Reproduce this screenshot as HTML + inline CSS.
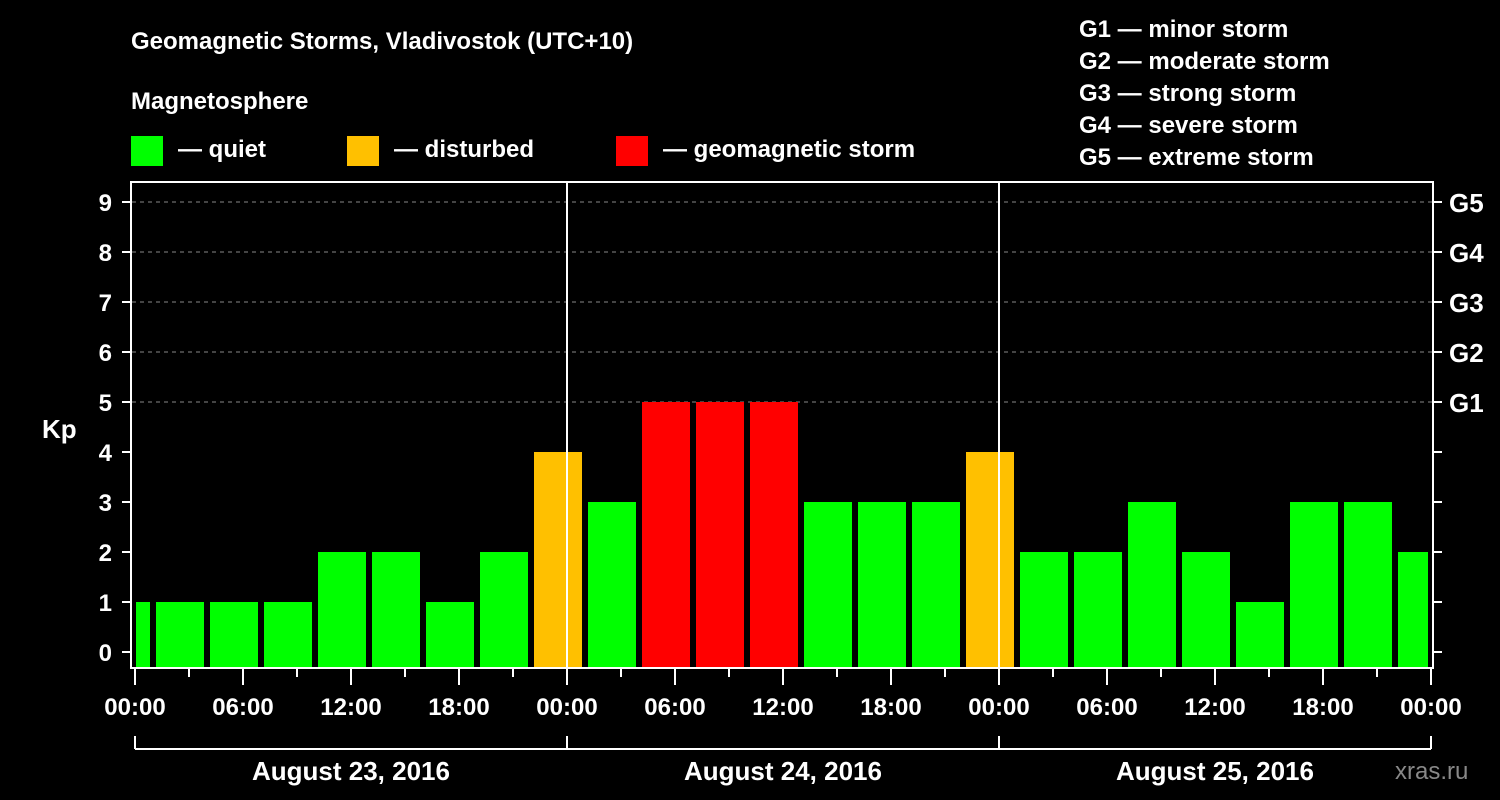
<!DOCTYPE html>
<html><head><meta charset="utf-8"><style>
body{margin:0;background:#000;width:1500px;height:800px;overflow:hidden}
svg{display:block}
text{font-family:"Liberation Sans",Arial,sans-serif;font-weight:bold;fill:#fff}
</style></head><body>
<svg id="c" width="1500" height="800">
<text x="131" y="49" font-size="24">Geomagnetic Storms, Vladivostok (UTC+10)</text>
<text x="131" y="109" font-size="24">Magnetosphere</text>
<g><rect x="131" y="136" width="32" height="30" fill="#00ff00"/><text x="178" y="157" font-size="24">— quiet</text></g>
<g><rect x="347" y="136" width="32" height="30" fill="#ffc000"/><text x="394" y="157" font-size="24">— disturbed</text></g>
<g><rect x="616" y="136" width="32" height="30" fill="#ff0000"/><text x="663" y="157" font-size="24">— geomagnetic storm</text></g>
<g font-size="24">
<text x="1079" y="37">G1 — minor storm</text><text x="1079" y="69">G2 — moderate storm</text><text x="1079" y="101">G3 — strong storm</text><text x="1079" y="133">G4 — severe storm</text><text x="1079" y="165">G5 — extreme storm</text></g>
<text x="42" y="438" font-size="26">Kp</text>
<text x="1395" y="779" font-size="24" fill="#888" style="fill:#888;font-weight:normal">xras.ru</text>
<g id="grid"></g><g id="bars"></g><g id="axes"></g>
</svg>
<script>
const kpValues=[1,1,1,1,2,2,1,2,4,3,5,5,5,3,3,3,4,2,2,3,2,1,3,3,2];
const kpTicks=[0,1,2,3,4,5,6,7,8,9];
const gLabels=["","","","","","G1","G2","G3","G4","G5"];
const hourLabels=["00:00","06:00","12:00","18:00","00:00","06:00","12:00","18:00","00:00","06:00","12:00","18:00","00:00"];
const dateLabels=["August 23, 2016","August 24, 2016","August 25, 2016"];
const NS="http://www.w3.org/2000/svg";
const X0=135,PX_H=18,Y0=652,PX_K=50,LEFT=132,RIGHT=1433,TOP=182,BOT=668;
const x=h=>X0+h*PX_H, y=k=>Y0-k*PX_K;
function mk(t,a,p){const e=document.createElementNS(NS,t);for(const k in a)e.setAttribute(k,a[k]);p.appendChild(e);return e;}
const grid=document.getElementById('grid'),bars=document.getElementById('bars'),axes=document.getElementById('axes');
kpTicks.forEach((k,i)=>{
 if(k>=5){const l=mk('line',{x1:LEFT,x2:RIGHT,y1:y(k),y2:y(k),stroke:'#888','stroke-dasharray':'4,4','stroke-width':1},grid);
 
 }
 mk('line',{x1:122,x2:LEFT,y1:y(k),y2:y(k),stroke:'#fff','stroke-width':2},axes);
 mk('line',{x1:RIGHT,x2:1442,y1:y(k),y2:y(k),stroke:'#fff','stroke-width':2},axes);
 const t=mk('text',{x:112,y:y(k)+9,'font-size':24,'text-anchor':'end'},axes);t.textContent=k;
 
 
 if(gLabels[i]){const g=mk('text',{x:1449,y:y(k)+10,'font-size':26},axes);g.textContent=gLabels[i];
 
 }
});
kpValues.forEach((v,i)=>{
 let x1=x(-2+3*i)+3,x2=x(1+3*i)-3;
 x1=Math.max(x1,136);x2=Math.min(x2,1428);
 const c=v>=5?'#ff0000':v>=4?'#ffc000':'#00ff00';
 const r=mk('rect',{x:x1,y:y(v),width:x2-x1,height:BOT-y(v),fill:c},bars);
 
 
});
[24,48].forEach(h=>mk('line',{x1:x(h),x2:x(h),y1:TOP,y2:BOT,stroke:'#fff','stroke-width':2},axes));
mk('rect',{x:LEFT-1,y:TOP,width:RIGHT-LEFT+1,height:BOT-TOP,fill:'none',stroke:'#fff','stroke-width':2},axes);
for(let h=0;h<=72;h+=3){const maj=h%6==0;mk('line',{x1:x(h),x2:x(h),y1:BOT,y2:maj?685:677,stroke:'#fff','stroke-width':2},axes);}
hourLabels.forEach((s,i)=>{const t=mk('text',{x:x(i*6),y:715,'font-size':24,'text-anchor':'middle'},axes);t.textContent=s;
 
 });
mk('line',{x1:x(0),x2:x(72),y1:749,y2:749,stroke:'#fff','stroke-width':2},axes);
[0,24,48,72].forEach(h=>mk('line',{x1:x(h),x2:x(h),y1:736,y2:749,stroke:'#fff','stroke-width':2},axes));
dateLabels.forEach((s,i)=>{const t=mk('text',{x:x(12+24*i),y:780,'font-size':26,'text-anchor':'middle'},axes);t.textContent=s;
 
 });
</script>
</body></html>
